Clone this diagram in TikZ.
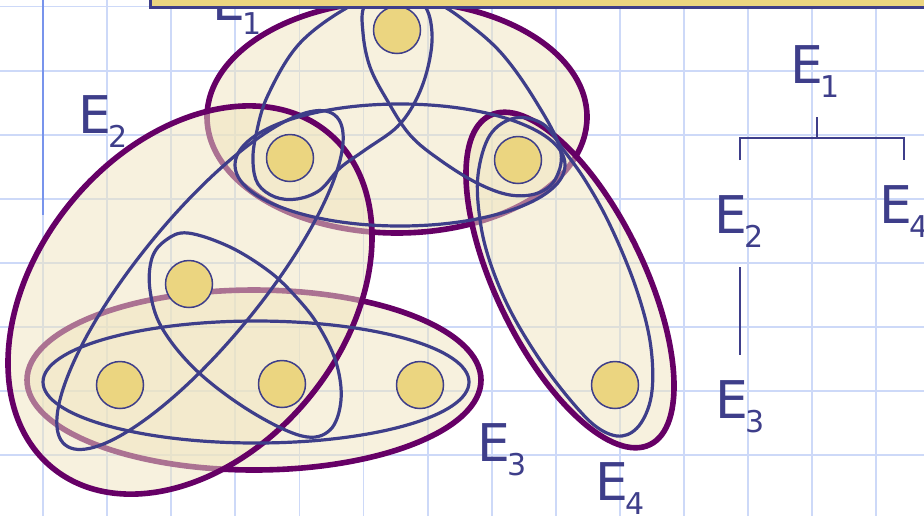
\documentclass[tikz,border=0pt]{standalone}
\usepackage{fontspec}
\setmainfont{DejaVu Sans}
\definecolor{ink}{RGB}{62,62,138}
\definecolor{plum}{RGB}{102,0,102}
\definecolor{cream}{RGB}{240,229,190}
\definecolor{gold}{RGB}{235,213,128}
\definecolor{gridc}{RGB}{205,217,248}
\definecolor{gridd}{RGB}{120,148,236}
\tikzset{
  vtx/.style={circle, draw=ink, line width=0.75pt, fill=gold, minimum size=23.5pt, inner sep=0pt},
  hedge/.style={draw=plum, line width=2.8pt, fill=cream, fill opacity=0.5},
  sec/.style={draw=ink, line width=1.6pt},
  glab/.style={text=ink, inner sep=0pt, anchor=base west, font=\fontsize{26}{26}\selectfont},
  gl/.style={draw=gridc, line width=0.9pt},
  tln/.style={draw=ink, line width=0.8pt}
}
\newcommand{\hlab}[1]{E\kern-1.5pt\raisebox{-7pt}{\fontsize{15}{15}\selectfont #1}}

\begin{document}
\begin{tikzpicture}[x=0.5pt, y=-0.5pt]
	\useasboundingbox (0,0) rectangle (924,516);
	\fill[white] (0,0) rectangle (924,516);
	% grid
	\foreach \k in {0,...,13} \draw[gl] ({43+64.1*\k},0) -- ({43+64.1*\k},516);
	\foreach \k in {0,...,7} \draw[gl] (0,{6.5+64.1*\k}) -- (924,{6.5+64.1*\k});
	\draw[gridd, line width=1pt] (43,0) -- (43,215);
	% hyperedges
	\draw[hedge] (397,117) ellipse [x radius=190, y radius=116];
	\draw[hedge] (254,380) ellipse [x radius=227, y radius=90];
	\draw[hedge, shift={(570,280)}, rotate=-64.1] (0,0) ellipse [x radius=183, y radius=74];
	\draw[hedge, shift={(190,300)}, rotate=50.6] (0,0) ellipse [x radius=217, y radius=154];
	% 2-section loops
	\draw[sec] (400,165) ellipse [x radius=165, y radius=61];
	\draw[sec] (256,382) ellipse [x radius=213, y radius=61];
	\draw[sec, shift={(200,280)}, rotate=50.7] (0,0) ellipse [x radius=213, y radius=62];
	\draw[sec] plot[smooth cycle, tension=0.6] coordinates {(398,-10) (352,5) (300,43) (268,95) (256,135) (253,162) (258,184) (275,197) (297,199) (320,190) (340,168) (365,150) (397,127) (416,100) (428,67) (432,33) (424,5)};
	\draw[sec] plot[smooth cycle, tension=0.6] coordinates {(390,-10) (365,5) (363,33) (370,67) (387,100) (410,135) (440,160) (477,183) (510,195) (538,193) (556,178) (560,148) (535,100) (503,55) (470,25) (435,2)};
	\draw[sec] plot[smooth cycle, tension=0.6] coordinates {(188,233) (230,247) (270,272) (297,298) (318,325) (336,362) (341,400) (330,430) (302,436) (250,411) (197,371) (162,328) (150,290) (152,258) (166,240)};
	\draw[sec] plot[smooth cycle, tension=0.6] coordinates {(478,175) (490,135) (515,118) (543,124) (562,148) (585,180) (610,225) (635,285) (650,341) (652,391) (641,423) (622,436) (598,428) (572,402) (540,360) (510,310) (490,262) (480,220)};
	% vertices
	\node[vtx] (v1) at (397,30) {};
	\node[vtx] (v2) at (290,158) {};
	\node[vtx] (v3) at (518,160) {};
	\node[vtx] (v4) at (189,284) {};
	\node[vtx] (v5) at (120,385) {};
	\node[vtx] (v6) at (282,384) {};
	\node[vtx] (v7) at (420,385) {};
	\node[vtx] (v8) at (615,385) {};
	% edge names
	\node[glab] (e1) at (212,20) {\hlab{1}};
	\node[glab] (e2) at (78,133) {\hlab{2}};
	\node[glab] (e3) at (477,461) {\hlab{3}};
	\node[glab] (e4) at (595,500) {\hlab{4}};
	% containment tree
	\node[glab] (t1) at (790,83) {\hlab{1}};
	\node[glab] (t2) at (714,233) {\hlab{2}};
	\node[glab] (t4) at (879,223) {\hlab{4}};
	\node[glab] (t3) at (715,418) {\hlab{3}};
	\coordinate (k1) at (817,117);
	\coordinate (k2) at (817,138);
	\coordinate (k3) at (740,160);
	\coordinate (k4) at (904,160);
	\coordinate (k5) at (740,267);
	\coordinate (k6) at (740,355);
	\draw[tln] (k1) -- (k2);
	\draw[tln] (k3) -- (k3 |- k2) -- (k4 |- k2) -- (k4);
	\draw[tln] (k5) -- (k6);
	% title bar
	\draw[fill=gold, draw=ink, line width=1.5pt] (150.5,-20) rectangle (960,7.5);
\end{tikzpicture}
\end{document}
